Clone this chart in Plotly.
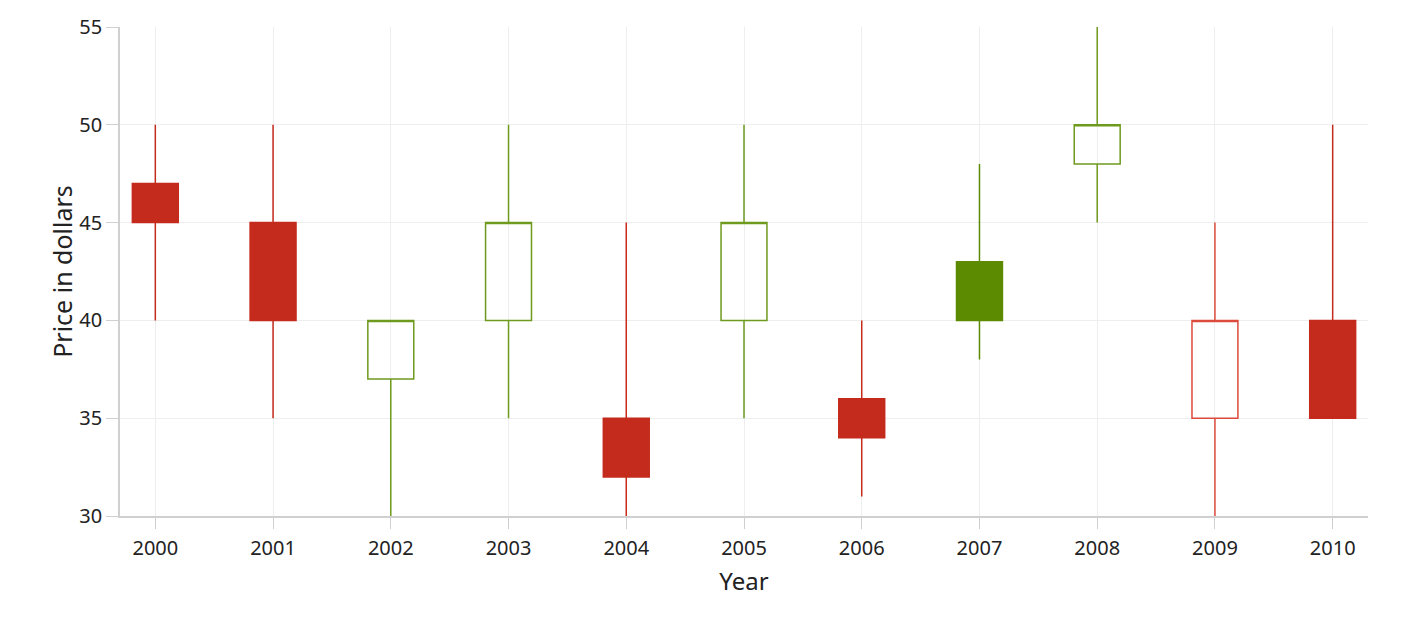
import plotly.graph_objects as go

years = [2000, 2001, 2002, 2003, 2004, 2005, 2006, 2007, 2008, 2009, 2010]
open_ = [47, 45, 37, 40, 35, 40, 36, 43, 48, 35, 40]
high = [50, 50, 40, 50, 45, 50, 40, 48, 55, 45, 50]
low = [40, 35, 30, 35, 30, 35, 31, 38, 45, 30, 35]
close = [45, 40, 40, 45, 32, 45, 34, 40, 50, 40, 35]

RED = "#C42B1C"
GREEN = "#5C8A00"
RED_EDGE = "#DC4A3C"
GREEN_EDGE = "#6E9A1E"

fig = go.Figure()
prev_close = None
for i, yr in enumerate(years):
    if prev_close is None:
        col = RED if close[i] < open_[i] else GREEN
    else:
        col = GREEN if close[i] >= prev_close else RED
    edge = RED_EDGE if col == RED else GREEN_EDGE
    hollow = close[i] > open_[i]
    style = dict(
        line=dict(color=edge if hollow else col, width=1.5),
        fillcolor="rgba(0,0,0,0)" if hollow else col,
    )
    fig.add_trace(go.Candlestick(
        x=[yr], open=[open_[i]], high=[high[i]], low=[low[i]], close=[close[i]],
        increasing=style, decreasing=style, whiskerwidth=0, showlegend=False,
    ))
    prev_close = close[i]

fig.update_layout(
    width=1411, height=618,
    margin=dict(l=112, r=51, t=19, b=110),
    paper_bgcolor="white", plot_bgcolor="white",
    font=dict(family="Noto Sans, Open Sans, sans-serif", color="#222222", size=20),
    boxgap=0.61, boxgroupgap=0,
    xaxis=dict(
        title=dict(text="Year", font=dict(size=24), standoff=13),
        range=[1999.7, 2010.3], tickmode="array", tickvals=years,
        ticktext=[str(y) for y in years],
        showgrid=True, gridcolor="#EEEEEE", gridwidth=1,
        showline=True, linecolor="#D0D0D0", linewidth=1.5,
        ticks="outside", ticklen=11, tickcolor="#D0D0D0", ticklabelstandoff=2,
        rangeslider=dict(visible=False), zeroline=False, automargin=False,
    ),
    yaxis=dict(
        title=dict(text="Price in dollars", font=dict(size=25), standoff=0),
        range=[30, 55], dtick=5, tick0=30,
        showgrid=True, gridcolor="#EEEEEE", gridwidth=1,
        showline=True, linecolor="#D0D0D0", linewidth=1.5,
        ticks="outside", ticklen=12, tickcolor="#D0D0D0", zeroline=False,
        automargin=False,
    ),
)

fig.write_html("out.html")
